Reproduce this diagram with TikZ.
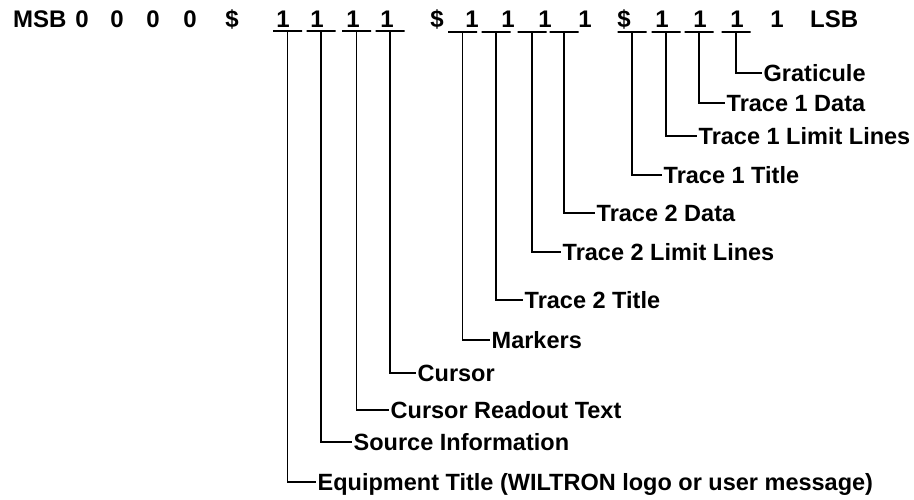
\documentclass[tikz,border=0pt]{standalone}
\usepackage{fontspec}
\setsansfont{Liberation Sans}

\begin{document}
\begin{tikzpicture}[
    x=1pt, y=-1pt,
    font=\sffamily\bfseries,
    % Register Bit Characters (top row)
    bitchar/.style={
        anchor=base, inner sep=0pt,
        font=\sffamily\bfseries\fontsize{24}{28}\selectfont
    },
    % Underscore Bar a Field Hangs From
    teebar/.style={
        rectangle, draw, line width=1.3pt,
        minimum width=29pt, minimum height=0pt, inner sep=0pt
    },
    % Field Name Style
    fieldlabel/.style={
        anchor=west, inner sep=1.5pt, text height=16.5pt, text depth=0pt,
        font=\sffamily\bfseries\fontsize{23.5}{27}\selectfont
    },
    % Leader Line Style
    lead/.style={line width=1.3pt}
]

    \useasboundingbox (0,0) rectangle (914,499);

    % =========================================================================
    % Register Row: MSB ... LSB
    % =========================================================================
    \node[bitchar, anchor=base west] (msb) at (13,27) {MSB};
    \node[bitchar] (z1) at (82,27) {0};
    \node[bitchar] (z2) at (117,27) {0};
    \node[bitchar] (z3) at (153,27) {0};
    \node[bitchar] (z4) at (190,27) {0};
    \node[bitchar] (s1) at (232,27) {\$};

    % First group
    \node[bitchar] (b1) at (283,27) {1};
    \node[bitchar] (b2) at (317,27) {1};
    \node[bitchar] (b3) at (353,27) {1};
    \node[bitchar] (b4) at (387,27) {1};
    \node[bitchar] (s2) at (437,27) {\$};

    % Second group
    \node[bitchar] (b5) at (472,27) {1};
    \node[bitchar] (b6) at (508,27) {1};
    \node[bitchar] (b7) at (545,27) {1};
    \node[bitchar] (b8) at (585,27) {1};
    \node[bitchar] (s3) at (624,27) {\$};

    % Third group
    \node[bitchar] (b9) at (662,27) {1};
    \node[bitchar] (b10) at (700,27) {1};
    \node[bitchar] (b11) at (737,27) {1};
    \node[bitchar] (b12) at (777,27) {1};
    \node[bitchar, anchor=base west] (lsb) at (810,27) {LSB};

    % =========================================================================
    % Underscore Bars
    % =========================================================================
    \node[teebar] (t1) at (287.5,31) {};
    \node[teebar] (t2) at (321,31) {};
    \node[teebar] (t3) at (356.5,31) {};
    \node[teebar] (t4) at (390,31) {};
    \node[teebar] (t5) at (462.5,32) {};
    \node[teebar] (t6) at (496,32) {};
    \node[teebar] (t7) at (532,32) {};
    \node[teebar] (t8) at (564,32) {};
    \node[teebar] (t9) at (632,32) {};
    \node[teebar] (t10) at (666,32) {};
    \node[teebar] (t11) at (699,32) {};
    \node[teebar] (t12) at (736,32) {};

    % =========================================================================
    % Field Names
    % =========================================================================
    \node[fieldlabel] (equip) at (316,482) {Equipment Title (WILTRON logo or user message)};
    \node[fieldlabel] (source) at (352,442) {Source Information};
    \node[fieldlabel] (readout) at (389,410) {Cursor Readout Text};
    \node[fieldlabel] (cursor) at (416,373) {Cursor};
    \node[fieldlabel] (markers) at (490,340) {Markers};
    \node[fieldlabel] (ttitle2) at (523,300) {Trace 2 Title};
    \node[fieldlabel] (tlimit2) at (561,252) {Trace 2 Limit Lines};
    \node[fieldlabel] (tdata2) at (595,213) {Trace 2 Data};
    \node[fieldlabel] (ttitle1) at (662,175) {Trace 1 Title};
    \node[fieldlabel] (tlimit1) at (697,136) {Trace 1 Limit Lines};
    \node[fieldlabel] (tdata1) at (725,103) {Trace 1 Data};
    \node[fieldlabel] (grat) at (762,73) {Graticule};

    % =========================================================================
    % Leaders: Bar -> Field Name
    % =========================================================================
    \draw[lead] (t1.center) |- (equip.west);
    \draw[lead] (t2.center) |- (source.west);
    \draw[lead] (t3.center) |- (readout.west);
    \draw[lead] (t4.center) |- (cursor.west);
    \draw[lead] (t5.center) |- (markers.west);
    \draw[lead] (t6.center) |- (ttitle2.west);
    \draw[lead] (t7.center) |- (tlimit2.west);
    \draw[lead] (t8.center) |- (tdata2.west);
    \draw[lead] (t9.center) |- (ttitle1.west);
    \draw[lead] (t10.center) |- (tlimit1.west);
    \draw[lead] (t11.center) |- (tdata1.west);
    \draw[lead] (t12.center) |- (grat.west);

\end{tikzpicture}
\end{document}
